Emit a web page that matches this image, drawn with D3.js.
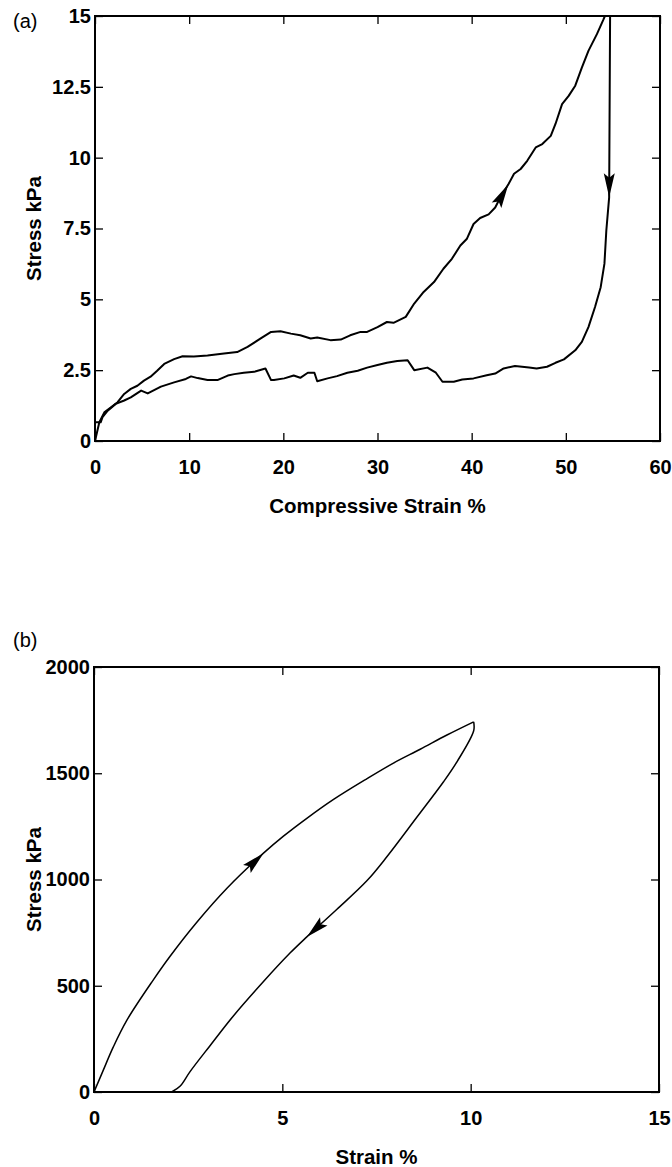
<!DOCTYPE html>
<html>
<head>
<meta charset="utf-8">
<script src="https://cdn.jsdelivr.net/npm/d3@7"></script>
<style>
  body { margin: 0; background: #fff; }
  svg { display: block; }
  .tick text { font-family: "Liberation Sans", Arial, sans-serif; font-weight: bold; font-size: 20px; fill: #000; }
  .lbl { font-family: "Liberation Sans", Arial, sans-serif; font-weight: bold; font-size: 20.5px; fill: #000; }
  .tag { font-family: "Liberation Sans", Arial, sans-serif; font-size: 20px; fill: #000; }
</style>
</head>
<body>
<svg id="chart" width="672" height="1167"></svg>
<script>
// panel (a): compressive strain %, stress kPa
let aLoading = [[0,0],[0.46,0.66],[0.99,1.01],[1.7,1.19],[2.4,1.37],[3.1,1.66],[3.8,1.84],[4.5,1.95],[5.2,2.13],[5.9,2.27],
  [6.6,2.48],[7.35,2.72],[8.4,2.89],[9.3,2.99],[10.5,2.98],[11.95,3.02],[13.7,3.09],[15.1,3.14],[16.2,3.32],[17.6,3.62],
  [18.7,3.85],[19.7,3.87],[20.8,3.79],[21.8,3.73],[22.9,3.62],[23.6,3.65],[25.0,3.56],[26.1,3.58],[27.1,3.73],[28.2,3.85],
  [28.9,3.85],[30.0,4.02],[31.0,4.2],[31.7,4.17],[33.0,4.38],[33.9,4.85],[34.9,5.26],[36.0,5.61],[37.0,6.08],[37.9,6.43],
  [38.8,6.9],[39.5,7.14],[40.2,7.66],[40.9,7.87],[41.8,8.0],[42.5,8.24],[43.05,8.6],[43.9,9.06],[44.5,9.43],[45.2,9.6],
  [45.9,9.89],[46.8,10.36],[47.5,10.48],[48.4,10.77],[48.9,11.19],[49.6,11.89],[50.3,12.18],[51.0,12.54],[51.7,13.18],
  [52.4,13.77],[53.3,14.36],[54.0,14.88],[54.15,15.0]];
let aUnloading = [[54.7,15.0],[54.6,8.6],[54.3,7.43],[54.1,6.26],[53.7,5.43],[53.1,4.73],[52.4,4.02],[51.7,3.5],[51.0,3.2],
  [49.8,2.88],[48.9,2.76],[48.0,2.62],[46.9,2.56],[46.1,2.59],[44.6,2.65],[43.4,2.56],[42.5,2.38],[41.6,2.32],[40.2,2.21],
  [39.0,2.17],[38.1,2.09],[36.9,2.09],[36.2,2.41],[35.3,2.59],[33.9,2.5],[33.2,2.85],[32.1,2.82],[31.0,2.76],[30.0,2.68],
  [28.9,2.59],[27.9,2.48],[26.8,2.41],[25.7,2.29],[24.7,2.21],[23.6,2.11],[23.3,2.41],[22.6,2.41],[21.8,2.23],[21.1,2.31],
  [20.1,2.21],[19.0,2.15],[18.7,2.15],[18.1,2.56],[16.9,2.44],[15.8,2.41],[14.8,2.36],[14.1,2.31],[13.0,2.15],[11.95,2.15],
  [10.9,2.22],[10.2,2.28],[9.65,2.19],[8.4,2.07],[7.0,1.92],[5.6,1.68],[4.9,1.78],[3.8,1.54],[3.1,1.43],[2.2,1.31],
  [1.35,1.07],[0.8,0.84],[0.6,0.66],[0,0.66]];
// arrows: [from, tip] in data units
let aArrows = [[[42.5,8.24],[43.9,9.06]], [[54.7,15.0],[54.6,8.6]]];
let aXTicks = [0,10,20,30,40,50,60];
let aYTicks = [0,2.5,5,7.5,10,12.5,15];

// panel (b): strain %, stress kPa
let bLoading = [[0,0],[0.25,104],[0.51,211],[0.87,337],[1.58,529],[2.02,639],[2.73,799],[3.53,959],[4.5,1124],
  [5.03,1204],[5.65,1288],[6.36,1377],[7.25,1475],[7.95,1548],[8.66,1613],[9.37,1680],[10.08,1742]];
let bUnloading = [[10.08,1742],[10.08,1700],[9.64,1555],[9.28,1460],[8.58,1295],[7.78,1108],[7.25,995],[6.45,860],
  [5.65,730],[5.21,655],[4.5,520],[3.7,358],[3.08,218],[2.55,96],[2.29,28],[2.06,0]];
let bArrows = [[[3.53,959],[4.5,1124]], [[6.45,860],[5.65,730]]];
let bXTicks = [0,5,10,15];
let bYTicks = [0,500,1000,1500,2000];

let svg = d3.select("#chart");

function arrowPath(x1, y1, x2, y2, len, hw){
    let dx = x2 - x1, dy = y2 - y1;
    let l = Math.sqrt(dx*dx + dy*dy);
    let ux = dx/l, uy = dy/l, nx = -uy, ny = ux;
    let bx = x2 - ux*len, by = y2 - uy*len;
    let mx = x2 - ux*len*0.82, my = y2 - uy*len*0.82;
    return "M" + x2 + "," + y2 +
        "L" + (bx + nx*hw) + "," + (by + ny*hw) +
        "L" + mx + "," + my +
        "L" + (bx - nx*hw) + "," + (by - ny*hw) + "Z";
}

function drawPanel(p){
    let w = p.right - p.left, h = p.bottom - p.top;
    let g = svg.append("g").attr("transform", `translate(${p.left},${p.top})`);

    let x = d3.scaleLinear().domain(p.xDomain).range([0, w]);
    let y = d3.scaleLinear().domain(p.yDomain).range([h, 0]);

    g.append("clipPath").attr("id", p.id + "clip")
        .append("rect").attr("width", w).attr("height", h);

    // inward ticks on all four sides
    g.append("g").attr("transform", `translate(0,${h})`)
        .call(d3.axisBottom(x).tickValues(p.xTicks).tickFormat(d => String(d))
            .tickSizeInner(-8).tickSizeOuter(0).tickPadding(19))
        .call(a => a.select(".domain").remove());
    g.append("g")
        .call(d3.axisLeft(y).tickValues(p.yTicks).tickFormat(d => String(d))
            .tickSizeInner(-8).tickSizeOuter(0).tickPadding(4))
        .call(a => a.select(".domain").remove());
    g.append("g")
        .call(d3.axisTop(x).tickValues(p.xTicks).tickFormat("").tickSizeInner(-8).tickSizeOuter(0))
        .call(a => a.select(".domain").remove());
    g.append("g").attr("transform", `translate(${w},0)`)
        .call(d3.axisRight(y).tickValues(p.yTicks).tickFormat("").tickSizeInner(-8).tickSizeOuter(0))
        .call(a => a.select(".domain").remove());
    g.selectAll(".tick line").attr("stroke", "#000").attr("stroke-width", 1.3);

    g.append("rect").attr("width", w).attr("height", h)
        .attr("fill", "none").attr("stroke", "#000").attr("stroke-width", 2);

    let line = d3.line().x(d => x(d[0])).y(d => y(d[1])).curve(p.curve);
    let curves = g.append("g").attr("clip-path", `url(#${p.id}clip)`);
    for (let s of p.series){
        curves.append("path").datum(s)
            .attr("d", line)
            .attr("fill", "none")
            .attr("stroke", "#000")
            .attr("stroke-width", p.lw)
            .attr("stroke-linejoin", "round");
    }
    for (let a of p.arrows){
        g.append("path")
            .attr("d", arrowPath(x(a[0][0]), y(a[0][1]), x(a[1][0]), y(a[1][1]), p.arrowLen, p.arrowHw))
            .attr("fill", "#000");
    }

    svg.append("text").attr("class", "lbl")
        .attr("x", p.left + w/2).attr("y", p.bottom + 72)
        .attr("text-anchor", "middle").text(p.xLabel);
    svg.append("text").attr("class", "lbl")
        .attr("transform", `translate(41,${p.top + h/2}) rotate(-90)`)
        .attr("text-anchor", "middle").text(p.yLabel);
    svg.append("text").attr("class", "tag")
        .attr("x", 13).attr("y", p.tagY).text(p.tag);
}

drawPanel({
    id: "a", left: 95, right: 660, top: 16, bottom: 441,
    xDomain: [0, 60], yDomain: [0, 15], xTicks: aXTicks, yTicks: aYTicks,
    series: [aLoading, aUnloading], arrows: aArrows, lw: 2, arrowLen: 24, arrowHw: 5.5,
    curve: d3.curveLinear,
    xLabel: "Compressive Strain %", yLabel: "Stress kPa", tag: "(a)", tagY: 28
});

drawPanel({
    id: "b", left: 94, right: 659, top: 667, bottom: 1092,
    xDomain: [0, 15], yDomain: [0, 2000], xTicks: bXTicks, yTicks: bYTicks,
    series: [bLoading, bUnloading], arrows: bArrows, lw: 1.5, arrowLen: 23, arrowHw: 5.5,
    curve: d3.curveCatmullRom.alpha(0.5),
    xLabel: "Strain %", yLabel: "Stress kPa", tag: "(b)", tagY: 647
});
</script>
</body>
</html>
